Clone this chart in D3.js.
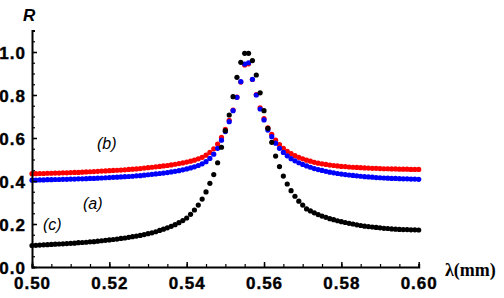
<!DOCTYPE html>
<html><head><meta charset="utf-8">
<script src="https://cdn.jsdelivr.net/npm/d3@7"></script>
<style>
html,body{margin:0;padding:0;background:#fff;}
svg{display:block;}
.tick text{font-family:"Liberation Sans",Arial,sans-serif;font-weight:bold;font-size:17px;letter-spacing:1px;}
</style></head><body>
<div id="chart"></div>
<script>
const wavelength = [0.500,0.501,0.502,0.503,0.504,0.505,0.506,0.507,0.508,0.509,
0.510,0.511,0.512,0.513,0.514,0.515,0.516,0.517,0.518,0.519,
0.520,0.521,0.522,0.523,0.524,0.525,0.526,0.527,0.528,0.529,
0.530,0.531,0.532,0.533,0.534,0.535,0.536,0.537,0.538,0.539,
0.540,0.541,0.542,0.543,0.544,0.545,0.546,0.547,0.548,0.549,
0.550,0.551,0.552,0.553,0.554,0.555,0.556,0.557,0.558,0.559,
0.560,0.561,0.562,0.563,0.564,0.565,0.566,0.567,0.568,0.569,
0.570,0.571,0.572,0.573,0.574,0.575,0.576,0.577,0.578,0.579,
0.580,0.581,0.582,0.583,0.584,0.585,0.586,0.587,0.588,0.589,
0.590,0.591,0.592,0.593,0.594,0.595,0.596,0.597,0.598,0.599,0.600];

// (b) red
const seriesB = [0.434,0.434,0.435,0.435,0.436,0.436,0.437,0.437,0.438,0.438,
0.439,0.440,0.440,0.441,0.442,0.443,0.444,0.445,0.446,0.447,
0.448,0.449,0.450,0.451,0.452,0.454,0.455,0.456,0.458,0.460,
0.462,0.464,0.466,0.468,0.470,0.472,0.475,0.478,0.481,0.484,
0.488,0.492,0.497,0.503,0.510,0.520,0.533,0.550,0.572,0.603,
0.640,0.682,0.730,0.790,0.860,0.940,0.945,0.872,0.802,0.740,
0.690,0.647,0.617,0.590,0.569,0.552,0.538,0.527,0.518,0.510,
0.503,0.497,0.492,0.487,0.483,0.480,0.477,0.474,0.472,0.470,
0.468,0.467,0.465,0.464,0.463,0.462,0.461,0.460,0.459,0.459,
0.458,0.457,0.457,0.456,0.456,0.455,0.455,0.455,0.454,0.454,0.454];

// (a) blue
const seriesA = [0.404,0.404,0.405,0.405,0.406,0.406,0.407,0.407,0.408,0.408,
0.409,0.409,0.410,0.410,0.411,0.412,0.412,0.413,0.414,0.415,
0.416,0.417,0.418,0.419,0.420,0.421,0.422,0.424,0.425,0.427,
0.429,0.431,0.433,0.435,0.437,0.439,0.442,0.445,0.448,0.452,
0.456,0.461,0.466,0.472,0.480,0.490,0.505,0.525,0.552,0.590,
0.630,0.676,0.727,0.789,0.862,0.944,0.950,0.873,0.800,0.735,
0.684,0.637,0.606,0.576,0.552,0.533,0.517,0.504,0.494,0.485,
0.477,0.470,0.464,0.458,0.453,0.449,0.445,0.441,0.438,0.435,
0.432,0.430,0.428,0.426,0.424,0.422,0.420,0.419,0.418,0.416,
0.415,0.414,0.413,0.412,0.412,0.411,0.410,0.410,0.409,0.409,0.408];

// (c) black
const seriesC = [0.100,0.101,0.102,0.103,0.104,0.105,0.106,0.107,0.108,0.109,
0.110,0.111,0.113,0.114,0.115,0.117,0.118,0.120,0.122,0.124,
0.126,0.128,0.130,0.133,0.135,0.138,0.141,0.144,0.147,0.151,
0.155,0.159,0.164,0.170,0.176,0.182,0.189,0.197,0.206,0.216,
0.228,0.245,0.265,0.288,0.316,0.349,0.389,0.430,0.485,0.557,
0.634,0.707,0.792,0.882,0.952,0.994,0.994,0.960,0.893,0.810,
0.727,0.645,0.580,0.516,0.467,0.423,0.386,0.355,0.329,0.306,
0.288,0.270,0.261,0.252,0.244,0.237,0.231,0.225,0.220,0.215,
0.211,0.207,0.203,0.200,0.196,0.193,0.190,0.188,0.186,0.184,
0.182,0.180,0.179,0.177,0.176,0.175,0.174,0.174,0.173,0.173,0.172];

const xTicks = [0.50,0.52,0.54,0.56,0.58,0.60];
const yTicks = [0.0,0.2,0.4,0.6,0.8,1.0];
const seriesNames = ["(b)","(a)","(c)"];
const seriesColors = ["#ff0000","#0000ff","#000000"];

const W = 504, H = 298;
const svg = d3.select("#chart").append("svg").attr("width", W).attr("height", H);

const x = d3.scaleLinear().domain([0.50, 0.60]).range([32, 418.7]);
const y = d3.scaleLinear().domain([0, 1.1]).range([267, 30.5]);

// points
const all = [seriesB, seriesA, seriesC];
all.forEach((s, k) => {
  svg.append("g").selectAll("circle").data(s).join("circle")
    .attr("cx", (d, i) => x(wavelength[i]))
    .attr("cy", d => y(d))
    .attr("r", 2.6)
    .attr("fill", seriesColors[k]);
});

// axes
const xMinor = d3.range(0, 21).map(i => 0.5 + i * 0.005);
const yMinor = d3.range(0, 23).map(i => i * 0.05);

const gx = svg.append("g").attr("transform", "translate(0,267)");
gx.call(d3.axisBottom(x).tickValues(xMinor).tickSize(-3).tickFormat(""));
gx.call(g => g.selectAll(".tick line").attr("stroke-width", 1.2));
const gx2 = svg.append("g").attr("transform", "translate(0,267)");
gx2.call(d3.axisBottom(x).tickValues(xTicks).tickSize(-5).tickPadding(10).tickFormat(d3.format(".2f")));
gx2.selectAll(".domain").remove();
gx2.selectAll(".tick line").attr("stroke-width", 1.5);
gx.select(".domain").attr("stroke-width", 2);

const gy = svg.append("g").attr("transform", "translate(32,0)");
gy.call(d3.axisLeft(y).tickValues(yMinor).tickSize(-3).tickFormat(""));
gy.selectAll(".tick line").attr("stroke-width", 1.2);
gy.select(".domain").attr("stroke-width", 2);
const gy2 = svg.append("g").attr("transform", "translate(32,0)");
gy2.call(d3.axisLeft(y).tickValues(yTicks).tickSize(-5).tickPadding(6).tickFormat(d3.format(".1f")));
gy2.selectAll(".domain").remove();
gy2.selectAll(".tick line").attr("stroke-width", 1.5);
gy2.selectAll(".tick text").attr("dy", "0.36em");
svg.selectAll(".tick text").attr("fill", "#000").attr("stroke", "#000").attr("stroke-width", 0.4);

// axis labels
svg.append("text").attr("x", 23).attr("y", 21)
  .attr("font-family", "Liberation Sans, Arial, sans-serif").attr("font-style", "italic").attr("font-weight", "bold")
  .attr("font-size", 17).text("R");
svg.append("text").attr("x", 445).attr("y", 276)
  .attr("font-family", "Liberation Serif, Times New Roman, serif").attr("font-weight", "bold")
  .attr("font-size", 18).text("λ(mm)");

// series labels
const labelPos = [[97, 149], [83, 209], [43, 230]];
seriesNames.forEach((n, k) => {
  svg.append("text").attr("x", labelPos[k][0]).attr("y", labelPos[k][1])
    .attr("font-family", "Liberation Sans, Arial, sans-serif").attr("font-style", "italic")
    .attr("font-size", 16).text(n);
});
</script>
</body></html>
